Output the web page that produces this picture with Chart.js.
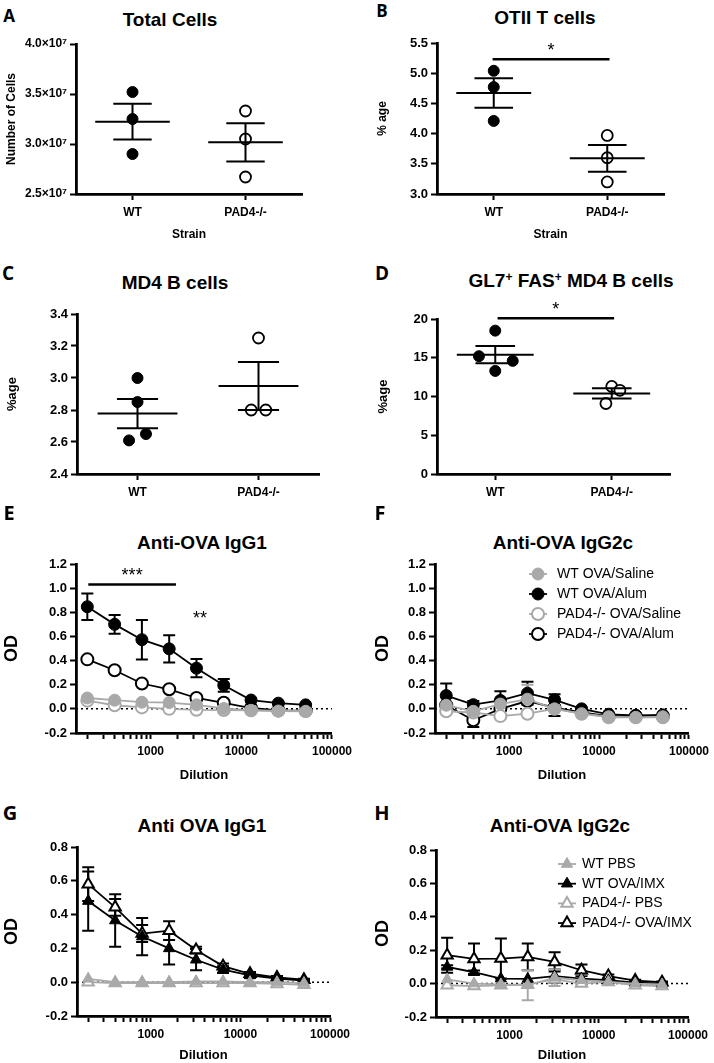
<!DOCTYPE html>
<html>
<head>
<meta charset="utf-8">
<script src="https://cdn.jsdelivr.net/npm/chart.js@4.4.1/dist/chart.umd.min.js"></script>
<style>
  html, body { margin: 0; padding: 0; background: #fff; }
  #fig { position: relative; width: 714px; height: 1063px; overflow: hidden; }
  #fig canvas { position: absolute; }
  .letter { position: absolute; font-family: "Open Sans", sans-serif; font-weight: 700; transform: translate(-50%, -50%); line-height: 1; }
  .title { position: absolute; font-family: "Liberation Sans", Arial, sans-serif; font-weight: 700; font-size: 19px; transform: translate(-50%, -50%); white-space: nowrap; line-height: 1; }
  .title sup { font-size: 12px; vertical-align: 6px; }
</style>
</head>
<body>
<div id="fig"></div>
<script>
// ===== Scatter panels (A-D) =====
const groups = ['WT', 'PAD4-/-'];

const totalCellsWT  = [3.52e7, 3.25e7, 2.90e7];
const totalCellsPAD = [3.33e7, 3.05e7, 2.67e7];

const otiiWT  = [5.04, 4.77, 4.21];
const otiiPAD = [3.97, 3.60, 3.20];

const md4WT        = [3.00, 2.85, 2.65, 2.61];
const md4WTJitter  = [0, 0, 0.07, -0.07];
const md4PAD       = [3.25, 2.80, 2.80];
const md4PADJitter = [0, -0.06, 0.06];

const gcWT        = [18.5, 15.2, 14.6, 13.3];
const gcWTJitter  = [0, -0.14, 0.15, 0];
const gcPAD       = [11.3, 10.8, 9.1];
const gcPADJitter = [0, 0.07, -0.05];

// ===== ELISA panels (E-H) =====
const dilutions   = [200, 400, 800, 1600, 3200, 6400, 12800, 25600, 51200];
const xTickLabels = [1000, 10000, 100000];

const alumSeries = ['WT OVA/Saline', 'WT OVA/Alum', 'PAD4-/- OVA/Saline', 'PAD4-/- OVA/Alum'];
const imxSeries  = ['WT PBS', 'WT OVA/IMX', 'PAD4-/- PBS', 'PAD4-/- OVA/IMX'];

// E: anti-OVA IgG1 (alum)
const eSalineWT  = [0.09, 0.072, 0.055, 0.052, 0.033, 0.003, -0.012, -0.018, -0.02];
const eAlumWT    = [0.846, 0.70, 0.573, 0.497, 0.337, 0.195, 0.073, 0.047, 0.033];
const eAlumWTErr = [0.109, 0.078, 0.164, 0.112, 0.075, 0.053, 0.01, 0.008, 0.006];
const eSalinePAD = [0.068, 0.03, 0.012, 0.0, -0.008, -0.01, -0.012, -0.015, -0.018];
const eAlumPAD   = [0.41, 0.32, 0.21, 0.162, 0.09, 0.05, 0.007, -0.012, -0.015];

// F: anti-OVA IgG2c (alum)
const fSalineWT    = [0.03, -0.02, 0.04, 0.08, 0.0, -0.04, -0.065, -0.07, -0.065];
const fSalineWTErr = [0, 0, 0, 0.12, 0, 0, 0, 0, 0];
const fAlumWT      = [0.11, 0.035, 0.07, 0.13, 0.075, 0.0, -0.045, -0.055, -0.05];
const fAlumWTErr   = [0.1, 0.03, 0.075, 0.095, 0.045, 0, 0, 0, 0];
const fSalinePAD   = [-0.02, -0.03, -0.06, -0.04, 0.0, -0.04, -0.07, -0.07, -0.07];
const fAlumPAD     = [0.03, -0.095, 0.0, 0.065, 0.01, -0.03, -0.06, -0.06, -0.06];
const fAlumPADErr  = [0, 0.055, 0.075, 0, 0.07, 0, 0, 0, 0];

// G: anti-OVA IgG1 (IMX)
const gPbsWT     = [0.02, 0.0, 0.0, 0.0, 0.005, 0.005, 0.0, 0.0, -0.005];
const gImxWT     = [0.48, 0.365, 0.27, 0.20, 0.133, 0.075, 0.04, 0.022, 0.01];
const gImxWTErr  = [0.175, 0.155, 0.11, 0.095, 0.063, 0.02, 0.01, 0.008, 0.005];
const gPbsPAD    = [0.0, -0.005, -0.005, -0.005, -0.005, -0.005, -0.005, -0.01, -0.015];
const gImxPAD    = [0.58, 0.443, 0.288, 0.305, 0.19, 0.095, 0.05, 0.028, 0.015];
const gImxPADErr = [0.1, 0.05, 0.05, 0.055, 0.02, 0.015, 0.01, 0.008, 0.005];

// H: anti-OVA IgG2c (IMX)
const hPbsWT     = [0.025, 0.0, -0.005, -0.01, 0.035, 0.02, 0.01, 0.0, -0.005];
const hPbsWTErr  = [0, 0, 0, 0.09, 0.05, 0.035, 0, 0, 0];
const hImxWT     = [0.10, 0.068, 0.03, 0.028, 0.045, 0.03, 0.02, 0.005, 0.0];
const hImxWTErr  = [0.01, 0.01, 0, 0, 0.04, 0.03, 0, 0, 0];
const hPbsPAD    = [-0.01, -0.015, -0.01, -0.005, 0.025, 0.0, 0.01, -0.01, -0.015];
const hImxPAD    = [0.17, 0.148, 0.15, 0.16, 0.13, 0.08, 0.045, 0.018, 0.008];
const hImxPADErr = [0.105, 0.092, 0.12, 0.08, 0.058, 0.035, 0.01, 0.005, 0.005];

// ===== Text =====
const panelLetters = ['A', 'B', 'C', 'D', 'E', 'F', 'G', 'H'];
const panelTitles = ['Total Cells', 'OTII T cells', 'MD4 B cells', 'GL7<sup>+</sup> FAS<sup>+</sup> MD4 B cells',
  'Anti-OVA IgG1', 'Anti-OVA IgG2c', 'Anti OVA IgG1', 'Anti-OVA IgG2c'];

// ===== Look =====
const FONT = '"Liberation Sans", Arial, sans-serif';
const BLACK = '#000';
const GRAY = '#a9a9a9';
const WHITE = '#fff';
const seriesStyles = [
  { color: GRAY,  fill: GRAY },   // WT control
  { color: BLACK, fill: BLACK },  // WT immunised
  { color: GRAY,  fill: WHITE },  // PAD4 control
  { color: BLACK, fill: WHITE },  // PAD4 immunised
];

Chart.defaults.font.family = FONT;
Chart.defaults.color = BLACK;

const fig = document.getElementById('fig');

// ===== Stats helpers =====
function mean(a) { return a.reduce((s, v) => s + v, 0) / a.length; }
function sem(a) {
  const m = mean(a);
  const v = a.reduce((s, x) => s + (x - m) * (x - m), 0) / (a.length - 1);
  return Math.sqrt(v) / Math.sqrt(a.length);
}

// ===== Plugins =====
function meanSemPlugin(groupValues) {
  return {
    id: 'meanSem',
    afterDatasetsDraw(chart) {
      const { ctx, scales: { x, y } } = chart;
      ctx.save();
      ctx.strokeStyle = BLACK;
      ctx.lineWidth = 2;
      groupValues.forEach((vals, i) => {
        const c = i + 1, m = mean(vals), s = sem(vals);
        const ym = y.getPixelForValue(m), yHi = y.getPixelForValue(m + s), yLo = y.getPixelForValue(m - s);
        ctx.beginPath();
        ctx.moveTo(x.getPixelForValue(c - 0.33), ym); ctx.lineTo(x.getPixelForValue(c + 0.33), ym);
        ctx.moveTo(x.getPixelForValue(c - 0.17), yHi); ctx.lineTo(x.getPixelForValue(c + 0.17), yHi);
        ctx.moveTo(x.getPixelForValue(c - 0.17), yLo); ctx.lineTo(x.getPixelForValue(c + 0.17), yLo);
        const px = x.getPixelForValue(c);
        ctx.moveTo(px, yHi); ctx.lineTo(px, yLo);
        ctx.stroke();
      });
      ctx.restore();
    }
  };
}

function sigPlugin(marks) {
  return {
    id: 'sig',
    afterDatasetsDraw(chart) {
      const { ctx, scales: { x, y } } = chart;
      ctx.save();
      ctx.strokeStyle = BLACK; ctx.fillStyle = BLACK; ctx.lineWidth = 2.5;
      ctx.font = '18px ' + FONT; ctx.textAlign = 'center'; ctx.textBaseline = 'middle';
      marks.forEach(m => {
        const py = y.getPixelForValue(m.y);
        if (m.x1 !== undefined) {
          const a = x.getPixelForValue(m.x0), b = x.getPixelForValue(m.x1);
          ctx.beginPath(); ctx.moveTo(a, py); ctx.lineTo(b, py); ctx.stroke();
          ctx.fillText(m.text, (a + b) / 2, py - 8);
        } else {
          ctx.fillText(m.text, x.getPixelForValue(m.x), py + 3);
        }
      });
      ctx.restore();
    }
  };
}

const zeroLine = {
  id: 'zeroLine',
  beforeDatasetsDraw(chart) {
    const { ctx, chartArea, scales: { y } } = chart;
    const py = y.getPixelForValue(0);
    ctx.save();
    ctx.setLineDash([2, 3]); ctx.lineWidth = 1.5; ctx.strokeStyle = BLACK;
    ctx.beginPath(); ctx.moveTo(chartArea.left, py); ctx.lineTo(chartArea.right, py); ctx.stroke();
    ctx.restore();
  }
};

const errorBars = {
  id: 'errorBars',
  beforeDatasetsDraw(chart) {
    const { ctx, scales: { y } } = chart;
    ctx.save();
    ctx.lineWidth = 2;
    for (let i = chart.data.datasets.length - 1; i >= 0; i--) {
      const ds = chart.data.datasets[i];
      if (!ds.errorBars) continue;
      const meta = chart.getDatasetMeta(i);
      ctx.strokeStyle = ds.borderColor;
      meta.data.forEach((pt, j) => {
        const e = ds.errorBars[j];
        if (!e) return;
        const v = ds.data[j].y;
        const top = y.getPixelForValue(v + e), bot = y.getPixelForValue(v - e);
        ctx.beginPath();
        ctx.moveTo(pt.x, top); ctx.lineTo(pt.x, bot);
        ctx.moveTo(pt.x - 6, top); ctx.lineTo(pt.x + 6, top);
        ctx.moveTo(pt.x - 6, bot); ctx.lineTo(pt.x + 6, bot);
        ctx.stroke();
      });
    }
    ctx.restore();
  }
};

function legendPlugin(pos) {
  return {
    id: 'sideLegend',
    afterDraw(chart) {
      const ctx = chart.ctx;
      ctx.save();
      ctx.font = pos.size + 'px ' + FONT; ctx.textBaseline = 'middle'; ctx.textAlign = 'left';
      chart.data.datasets.forEach((ds, i) => {
        const yy = pos.y + i * pos.row;
        ctx.strokeStyle = ds.borderColor; ctx.lineWidth = 1.8;
        ctx.beginPath(); ctx.moveTo(pos.mx - 9, yy); ctx.lineTo(pos.mx + 9, yy); ctx.stroke();
        ctx.fillStyle = ds.pointBackgroundColor; ctx.lineWidth = ds.pointBorderWidth;
        Chart.helpers.drawPoint(ctx, { pointStyle: ds.pointStyle, radius: ds.pointRadius, borderWidth: ds.pointBorderWidth, rotation: 0 }, pos.mx, yy);
        ctx.fillStyle = BLACK;
        ctx.fillText(ds.label, pos.tx, yy);
      });
      ctx.restore();
    }
  };
}

// ===== Builders =====
function addCanvas(box) {
  const c = document.createElement('canvas');
  c.width = box.w; c.height = box.h;
  c.style.left = box.x + 'px'; c.style.top = box.y + 'px';
  c.style.width = box.w + 'px'; c.style.height = box.h + 'px';
  fig.appendChild(c);
  return c;
}

function addText(idx, letter, title) {
  const l = document.createElement('div');
  l.className = 'letter';
  l.textContent = panelLetters[idx];
  l.style.left = letter.x + 'px'; l.style.top = letter.y + 'px'; l.style.fontSize = letter.size + 'px';
  fig.appendChild(l);
  const t = document.createElement('div');
  t.className = 'title';
  t.innerHTML = panelTitles[idx];
  t.style.left = title.x + 'px'; t.style.top = title.y + 'px';
  fig.appendChild(t);
}

function axisStyle() {
  return {
    border: { display: true, color: BLACK, width: 2.8 },
    grid: { display: true, drawOnChartArea: false, drawTicks: true, tickLength: 6, tickWidth: 2, tickColor: BLACK },
  };
}

function fmtTick(v, digits) {
  if (Math.abs(v) < 1e-9) v = 0;
  return v.toFixed(digits);
}

function baseOptions(p) {
  const yAxis = {
    ...axisStyle(),
    type: 'linear', min: p.yMin, max: p.yMax,
    afterFit: s => { s.width = p.plot.left - p.box.x; },
    ticks: { stepSize: p.yStep, padding: 3, font: { size: p.yTickSize || 12, weight: 'bold' }, callback: p.yFmt },
    title: { display: true, text: p.yTitle, font: { size: p.yTitleSize, weight: 'bold' },
             padding: { top: p.yTitleX - p.yTitleSize * 0.6, bottom: 0 } },
  };
  return {
    responsive: false,
    devicePixelRatio: 1,
    animation: false,
    layout: { padding: { left: 0, top: p.plot.top - p.box.y, right: p.box.x + p.box.w - p.plot.right, bottom: 0 } },
    plugins: { legend: { display: false }, title: { display: false }, tooltip: { enabled: false } },
    scales: { y: yAxis },
  };
}

function scatterPanel(p) {
  const opts = baseOptions(p);
  opts.scales.x = {
    ...axisStyle(),
    type: 'linear', min: 0.5, max: 2.5,
    afterFit: s => { s.height = p.box.y + p.box.h - p.plot.bottom; },
    afterBuildTicks: s => { s.ticks = groups.map((g, i) => ({ value: i + 1 })); },
    ticks: { autoSkip: false, maxRotation: 0, padding: 5, font: { size: 12, weight: 'bold' },
             callback: v => groups[Math.round(v) - 1] },
    title: { display: !!p.xTitle, text: p.xTitle || '', font: { size: 12, weight: 'bold' },
             padding: { top: 0, bottom: p.xTitleOffset - 7.2 } },
  };
  const datasets = p.values.map((vals, g) => ({
    data: vals.map((v, i) => ({ x: g + 1 + (p.jitter ? p.jitter[g][i] : 0), y: v })),
    pointRadius: g === 0 ? 5.5 : 5.5,
    pointBorderWidth: g === 0 ? 1 : 1.8,
    pointBackgroundColor: g === 0 ? BLACK : WHITE,
    pointBorderColor: BLACK,
  }));
  const plugins = [meanSemPlugin(p.values)];
  if (p.sig) plugins.push(sigPlugin(p.sig));
  new Chart(addCanvas(p.box), { type: 'scatter', data: { datasets }, options: opts, plugins });
}

function lineDataset(label, values, errs, style, shape) {
  return {
    label,
    data: dilutions.map((d, i) => ({ x: d, y: values[i] })),
    errorBars: errs,
    borderColor: style.color, backgroundColor: style.fill,
    pointBackgroundColor: style.fill, pointBorderColor: style.color,
    pointBorderWidth: style.fill === WHITE ? 2 : 1,
    pointRadius: shape === 'triangle' ? 6.5 : 6,
    pointStyle: shape, borderWidth: 1.8, tension: 0,
  };
}

function logTickValues(min, max) {
  const out = [];
  for (let dec = 100; dec <= max; dec *= 10) {
    for (let k = 1; k <= 9; k++) {
      const v = dec * k;
      if (v >= min && v <= max) out.push(v);
    }
  }
  return out;
}

function dilutionPanel(p) {
  const opts = baseOptions(p);
  opts.scales.x = {
    ...axisStyle(),
    type: 'logarithmic', min: 150, max: 100000,
    afterFit: s => { s.height = p.box.y + p.box.h - p.plot.bottom; },
    afterBuildTicks: s => { s.ticks = logTickValues(150, 100000).map(v => ({ value: v })); },
    ticks: { autoSkip: false, maxRotation: 0, padding: 5, font: { size: 12, weight: 'bold' },
             callback: v => (xTickLabels.includes(v) ? String(v) : '') },
    title: { display: true, text: 'Dilution', font: { size: 13, weight: 'bold' },
             padding: { top: 0, bottom: p.xTitleOffset - 7.8 } },
  };
  const plugins = [zeroLine, errorBars];
  if (p.sig) plugins.push(sigPlugin(p.sig));
  if (p.legend) plugins.push(legendPlugin(p.legend));
  new Chart(addCanvas(p.box), { type: 'line', data: { datasets: p.datasets }, options: opts, plugins });
}

// ===== Panels =====
const fmtCells = v => fmtTick(v / 1e7, 1) + '×10⁷';
const fmt1 = v => fmtTick(v, 1);
const fmt0 = v => fmtTick(v, 0);

// A
addText(0, { x: 9, y: 15, size: 17 }, { x: 170, y: 19 });
scatterPanel({
  box: { x: 0, y: 0, w: 357, h: 250 }, plot: { left: 76, top: 44, right: 302, bottom: 194 },
  values: [totalCellsWT, totalCellsPAD],
  yMin: 2.5e7, yMax: 4.0e7, yStep: 5e6, yFmt: fmtCells,
  yTitle: 'Number of Cells', yTitleSize: 12, yTitleX: 12,
  xTitle: 'Strain', xTitleOffset: 15,
});

// B
addText(1, { x: 382, y: 10, size: 17 }, { x: 545, y: 17 });
scatterPanel({
  box: { x: 357, y: 0, w: 357, h: 250 }, plot: { left: 437, top: 43, right: 664, bottom: 194 },
  values: [otiiWT, otiiPAD],
  yMin: 3.0, yMax: 5.5, yStep: 0.5, yFmt: fmt1, yTickSize: 13,
  yTitle: '% age', yTitleSize: 12, yTitleX: 26,
  xTitle: 'Strain', xTitleOffset: 15,
  sig: [{ x0: 0.99, x1: 2.02, y: 5.23, text: '*' }],
});

// C
addText(2, { x: 8, y: 273, size: 19 }, { x: 175, y: 282 });
scatterPanel({
  box: { x: 0, y: 250, w: 357, h: 255 }, plot: { left: 77, top: 314, right: 319, bottom: 474 },
  values: [md4WT, md4PAD], jitter: [md4WTJitter, md4PADJitter],
  yMin: 2.4, yMax: 3.4, yStep: 0.2, yFmt: fmt1, yTickSize: 13,
  yTitle: '%age', yTitleSize: 13, yTitleX: 12,
});

// D
addText(3, { x: 382, y: 273, size: 19 }, { x: 571, y: 280 });
scatterPanel({
  box: { x: 357, y: 250, w: 357, h: 255 }, plot: { left: 437, top: 319, right: 670, bottom: 474 },
  values: [gcWT, gcPAD], jitter: [gcWTJitter, gcPADJitter],
  yMin: 0, yMax: 20, yStep: 5, yFmt: fmt0, yTickSize: 13,
  yTitle: '%age', yTitleSize: 13, yTitleX: 26,
  sig: [{ x0: 1.02, x1: 2.02, y: 20.1, text: '*' }],
});

// E
addText(4, { x: 9, y: 513, size: 20 }, { x: 202, y: 542 });
dilutionPanel({
  box: { x: 0, y: 505, w: 357, h: 280 }, plot: { left: 76, top: 564, right: 332, bottom: 733 },
  yMin: -0.2, yMax: 1.2, yStep: 0.2, yFmt: fmt1, yTickSize: 13,
  yTitle: 'OD', yTitleSize: 18, yTitleX: 12, xTitleOffset: 10,
  datasets: [
    lineDataset(alumSeries[0], eSalineWT, null, seriesStyles[0], 'circle'),
    lineDataset(alumSeries[1], eAlumWT, eAlumWTErr, seriesStyles[1], 'circle'),
    lineDataset(alumSeries[2], eSalinePAD, null, seriesStyles[2], 'circle'),
    lineDataset(alumSeries[3], eAlumPAD, null, seriesStyles[3], 'circle'),
  ],
  sig: [{ x0: 205, x1: 1900, y: 1.03, text: '***' }, { x: 3500, y: 0.77, text: '**' }],
});

// F
addText(5, { x: 380, y: 513, size: 20 }, { x: 563, y: 542 });
dilutionPanel({
  box: { x: 357, y: 505, w: 357, h: 280 }, plot: { left: 435, top: 564, right: 692, bottom: 733 },
  yMin: -0.2, yMax: 1.2, yStep: 0.2, yFmt: fmt1, yTickSize: 13,
  yTitle: 'OD', yTitleSize: 18, yTitleX: 26, xTitleOffset: 10,
  datasets: [
    lineDataset(alumSeries[0], fSalineWT, fSalineWTErr, seriesStyles[0], 'circle'),
    lineDataset(alumSeries[1], fAlumWT, fAlumWTErr, seriesStyles[1], 'circle'),
    lineDataset(alumSeries[2], fSalinePAD, null, seriesStyles[2], 'circle'),
    lineDataset(alumSeries[3], fAlumPAD, fAlumPADErr, seriesStyles[3], 'circle'),
  ],
  legend: { mx: 181, tx: 200, y: 69, row: 20, size: 14 },
});

// G
addText(6, { x: 10, y: 813, size: 20 }, { x: 202, y: 825 });
dilutionPanel({
  box: { x: 0, y: 785, w: 357, h: 278 }, plot: { left: 77, top: 847, right: 330, bottom: 1016 },
  yMin: -0.2, yMax: 0.8, yStep: 0.2, yFmt: fmt1, yTickSize: 13,
  yTitle: 'OD', yTitleSize: 18, yTitleX: 12, xTitleOffset: 8,
  datasets: [
    lineDataset(imxSeries[0], gPbsWT, null, seriesStyles[0], 'triangle'),
    lineDataset(imxSeries[1], gImxWT, gImxWTErr, seriesStyles[1], 'triangle'),
    lineDataset(imxSeries[2], gPbsPAD, null, seriesStyles[2], 'triangle'),
    lineDataset(imxSeries[3], gImxPAD, gImxPADErr, seriesStyles[3], 'triangle'),
  ],
});

// H
addText(7, { x: 382, y: 813, size: 20 }, { x: 560, y: 825 });
dilutionPanel({
  box: { x: 357, y: 785, w: 357, h: 278 }, plot: { left: 436, top: 850, right: 688, bottom: 1017 },
  yMin: -0.2, yMax: 0.8, yStep: 0.2, yFmt: fmt1, yTickSize: 13,
  yTitle: 'OD', yTitleSize: 18, yTitleX: 26, xTitleOffset: 8,
  datasets: [
    lineDataset(imxSeries[0], hPbsWT, hPbsWTErr, seriesStyles[0], 'triangle'),
    lineDataset(imxSeries[1], hImxWT, hImxWTErr, seriesStyles[1], 'triangle'),
    lineDataset(imxSeries[2], hPbsPAD, null, seriesStyles[2], 'triangle'),
    lineDataset(imxSeries[3], hImxPAD, hImxPADErr, seriesStyles[3], 'triangle'),
  ],
  legend: { mx: 210, tx: 225, y: 79, row: 19.7, size: 14 },
});
</script>
</body>
</html>
